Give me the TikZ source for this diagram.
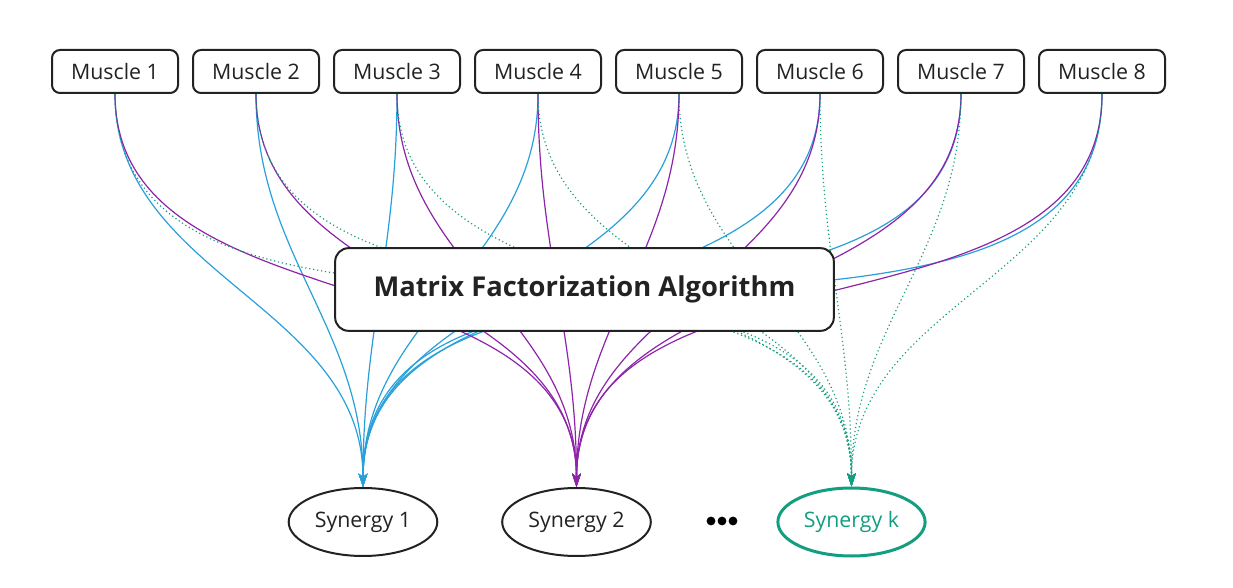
\documentclass[tikz,border=0pt]{standalone}
\usepackage{fontspec}
\setmainfont{Open Sans}
\usepackage{tikz}
\usetikzlibrary{arrows.meta}
\usetikzlibrary{backgrounds}
\usetikzlibrary{shapes.geometric}

\definecolor{synblue}{RGB}{41,160,218}
\definecolor{synpurple}{RGB}{142,36,170}
\definecolor{synteal}{RGB}{20,158,128}
\definecolor{boxline}{RGB}{34,34,34}

\begin{document}
\begin{tikzpicture}[x=0.75pt,y=-0.75pt]
	\useasboundingbox (0,0) rectangle (1233,588);
	\begin{scope}[every node/.style={rectangle,rounded corners=6pt,draw=boxline,line width=1.5pt,
	              minimum width=94.5pt,minimum height=32.25pt,font=\fontsize{16}{18}\selectfont,text=boxline}]
		\node (1) at (115,71.5) {Muscle 1};
		\node (2) at (256,71.5) {Muscle 2};
		\node (3) at (397,71.5) {Muscle 3};
		\node (4) at (538,71.5) {Muscle 4};
		\node (5) at (679,71.5) {Muscle 5};
		\node (6) at (820,71.5) {Muscle 6};
		\node (7) at (961,71.5) {Muscle 7};
		\node (8) at (1102,71.5) {Muscle 8};
	\end{scope}

	\node[rectangle,rounded corners=10pt,draw=boxline,line width=1.5pt,fill=white,
	      minimum width=374pt,minimum height=62pt,font=\fontsize{20.5}{24}\selectfont\bfseries,text=boxline]
	      (9) at (584.5,289.5) {Matrix Factorization Algorithm};

	\begin{scope}[every node/.style={ellipse,draw=boxline,line width=1.5pt,
	              minimum width=109.5pt,minimum height=51pt,font=\fontsize{16}{18}\selectfont,text=boxline}]
		\node (10) at (363,522) {Synergy 1};
		\node (11) at (576.5,522) {Synergy 2};
		\node[draw=synteal,text=synteal,line width=2.25pt] (12) at (851.5,522) {Synergy k};
	\end{scope}

	\fill[black] (711,521) circle (3.3pt) (722,521) circle (3.3pt) (733,521) circle (3.3pt);

	\begin{scope}[on background layer,
	              >={Stealth[length=10pt,width=6.5pt,inset=2.5pt]},
	              every edge/.style={draw,->,line width=0.9pt,out=-90,in=90}]
		\path (1) edge[synblue] (10);
		\path (2) edge[synblue] (10);
		\path (3) edge[synblue] (10);
		\path (4) edge[synblue] (10);
		\path (5) edge[synblue] (10);
		\path (6) edge[synblue] (10);
		\path (7) edge[synblue] (10);
		\path (8) edge[synblue] (10);
		\path (1) edge[synpurple] (11);
		\path (2) edge[synpurple] (11);
		\path (3) edge[synpurple] (11);
		\path (4) edge[synpurple] (11);
		\path (5) edge[synpurple] (11);
		\path (6) edge[synpurple] (11);
		\path (7) edge[synpurple] (11);
		\path (8) edge[synpurple] (11);
		\path (1) edge[synteal,dash pattern=on 0.9pt off 2.1pt] (12);
		\path (2) edge[synteal,dash pattern=on 0.9pt off 2.1pt] (12);
		\path (3) edge[synteal,dash pattern=on 0.9pt off 2.1pt] (12);
		\path (4) edge[synteal,dash pattern=on 0.9pt off 2.1pt] (12);
		\path (5) edge[synteal,dash pattern=on 0.9pt off 2.1pt] (12);
		\path (6) edge[synteal,dash pattern=on 0.9pt off 2.1pt] (12);
		\path (7) edge[synteal,dash pattern=on 0.9pt off 2.1pt] (12);
		\path (8) edge[synteal,dash pattern=on 0.9pt off 2.1pt] (12);
	\end{scope}
\end{tikzpicture}
\end{document}
